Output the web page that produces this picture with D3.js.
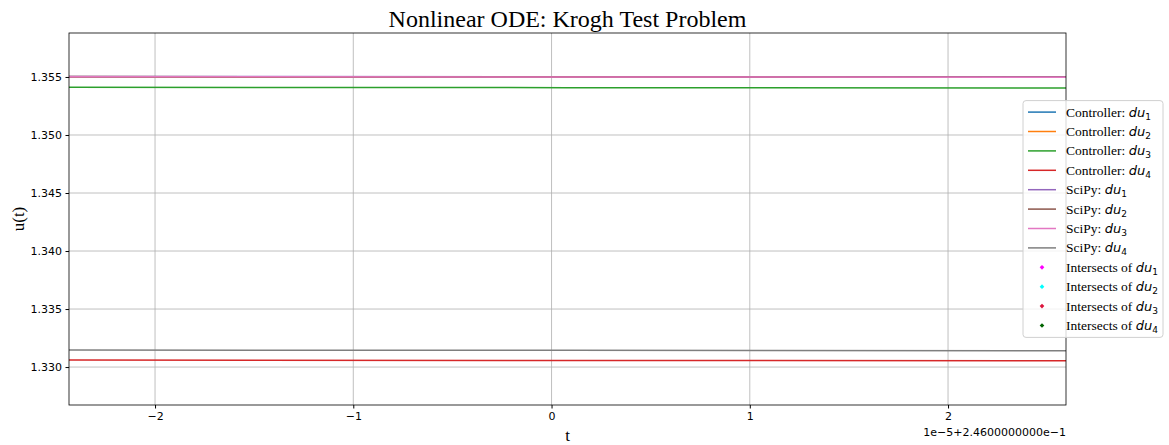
<!DOCTYPE html>
<html>
<head>
<meta charset="utf-8">
<script src="https://cdn.jsdelivr.net/npm/d3@7"></script>
<style>
  body { margin: 0; background: #fff; }
  .tick text { font-family: 'DejaVu Sans', sans-serif; font-size: 11px; fill: #000; }
  .serif { font-family: 'Liberation Serif', 'Times New Roman', serif; }
</style>
</head>
<body>
<div id="chart"></div>
<script>
// t is offset from 0.246, in units of 1e-5
const tValues = [-2.434, 0.08, 2.595];
const controllerDu1 = [1.35501, 1.35499, 1.35497];
const controllerDu2 = [1.35501, 1.35499, 1.35497];
const controllerDu3 = [1.35411, 1.35408, 1.35405];
const controllerDu4 = [1.33060, 1.33057, 1.33054];
const scipyDu1 = [1.35505, 1.35502, 1.35499];
const scipyDu2 = [1.35504, 1.35501, 1.35498];
const scipyDu3 = [1.35503, 1.35500, 1.35497];
const scipyDu4 = [1.33147, 1.33144, 1.33141];
const xTicks = [-2, -1, 0, 1, 2];
const yTicks = [1.330, 1.335, 1.340, 1.345, 1.350, 1.355];
const xDomain = [-2.434, 2.595];
const yDomain = [1.32673, 1.35879];

const series = [
  { label: 'Controller: ', sub: '1', values: controllerDu1, color: '#1f77b4' },
  { label: 'Controller: ', sub: '2', values: controllerDu2, color: '#ff7f0e' },
  { label: 'Controller: ', sub: '3', values: controllerDu3, color: '#2ca02c' },
  { label: 'Controller: ', sub: '4', values: controllerDu4, color: '#d62728' },
  { label: 'SciPy: ', sub: '1', values: scipyDu1, color: '#9467bd' },
  { label: 'SciPy: ', sub: '2', values: scipyDu2, color: '#8c564b' },
  { label: 'SciPy: ', sub: '3', values: scipyDu3, color: '#e377c2' },
  { label: 'SciPy: ', sub: '4', values: scipyDu4, color: '#7f7f7f' }
];
// intersections: none fall inside the view, only legend entries
const intersects = [
  { label: 'Intersects of ', sub: '1', color: '#ff00ff' },
  { label: 'Intersects of ', sub: '2', color: '#00ffff' },
  { label: 'Intersects of ', sub: '3', color: '#dc143c' },
  { label: 'Intersects of ', sub: '4', color: '#006400' }
];

const W = 1169, H = 445;
const margin = { top: 33, right: 103, bottom: 40, left: 69 };
const width = W - margin.left - margin.right;
const height = H - margin.top - margin.bottom;

const svg = d3.select('#chart').append('svg')
  .attr('width', W).attr('height', H);

const g = svg.append('g')
  .attr('transform', `translate(${margin.left},${margin.top})`);

const x = d3.scaleLinear().domain(xDomain).range([0, width]);
const y = d3.scaleLinear().domain(yDomain).range([height, 0]);

// grid
g.append('g').selectAll('line').data(xTicks).join('line')
  .attr('x1', d => x(d)).attr('x2', d => x(d))
  .attr('y1', 0).attr('y2', height)
  .attr('stroke', '#b0b0b0').attr('stroke-width', 0.8);
g.append('g').selectAll('line').data(yTicks).join('line')
  .attr('y1', d => y(d)).attr('y2', d => y(d))
  .attr('x1', 0).attr('x2', width)
  .attr('stroke', '#b0b0b0').attr('stroke-width', 0.8);

// lines
const line = d3.line().x((d, i) => x(tValues[i])).y(d => y(d));
g.append('g').selectAll('path').data(series).join('path')
  .attr('d', d => line(d.values))
  .attr('fill', 'none')
  .attr('stroke', d => d.color)
  .attr('stroke-width', 1.5);

// axes
const xAxis = d3.axisBottom(x).tickValues(xTicks).tickSize(3.5).tickPadding(3.5)
  .tickFormat(d => d3.format('')(d).replace('-', '\u2212'));
const yAxis = d3.axisLeft(y).tickValues(yTicks).tickSize(3.5).tickPadding(3.5)
  .tickFormat(d3.format('.3f'));

g.append('g').attr('transform', `translate(0,${height})`).call(xAxis)
  .call(a => a.select('.domain').remove());
g.append('g').call(yAxis)
  .call(a => a.select('.domain').remove());

// frame
g.append('rect')
  .attr('width', width).attr('height', height)
  .attr('fill', 'none').attr('stroke', '#000').attr('stroke-width', 0.8);

// title and labels
svg.append('text').attr('class', 'serif')
  .attr('x', margin.left + width / 2).attr('y', 27)
  .attr('text-anchor', 'middle').attr('font-size', 24)
  .text('Nonlinear ODE: Krogh Test Problem');
svg.append('text').attr('class', 'serif')
  .attr('x', margin.left + width / 2).attr('y', 441)
  .attr('text-anchor', 'middle').attr('font-size', 17)
  .text('t');
svg.append('text').attr('class', 'serif')
  .attr('transform', `translate(24,${margin.top + height / 2}) rotate(-90)`)
  .attr('text-anchor', 'middle').attr('font-size', 17)
  .text('u(t)');
svg.append('text')
  .attr('x', margin.left + width).attr('y', 436)
  .attr('text-anchor', 'end')
  .attr('font-family', 'DejaVu Sans, sans-serif').attr('font-size', 11)
  .text('1e\u22125+2.4600000000e\u22121');

// legend, centred vertically on the axes
const rows = series.map(d => ({ ...d, kind: 'line' }))
  .concat(intersects.map(d => ({ ...d, kind: 'marker' })));
const rowH = 19.4;
const lh = rows.length * rowH + 4;
const lx = 1023, lw = 140, ly = margin.top + height / 2 - lh / 2;
const legend = svg.append('g');
legend.append('rect')
  .attr('x', lx).attr('y', ly).attr('width', lw).attr('height', lh)
  .attr('rx', 3).attr('fill', 'rgba(255,255,255,0.8)')
  .attr('stroke', '#d0d0d0').attr('stroke-width', 1);

const item = legend.selectAll('g.item').data(rows).join('g')
  .attr('class', 'item')
  .attr('transform', (d, i) => `translate(${lx},${ly + 11.5 + i * rowH})`);

item.filter(d => d.kind === 'line').append('line')
  .attr('x1', 5).attr('x2', 33).attr('y1', 0).attr('y2', 0)
  .attr('stroke', d => d.color).attr('stroke-width', 1.5);
item.filter(d => d.kind === 'marker').append('path')
  .attr('d', d3.symbol(d3.symbolDiamond2, 14))
  .attr('transform', 'translate(19,0)')
  .attr('fill', d => d.color);

const txt = item.append('text')
  .attr('x', 43).attr('y', 4.5)
  .attr('class', 'serif').attr('font-size', 13.5);
txt.append('tspan').text(d => d.label);
txt.append('tspan')
  .attr('font-family', 'DejaVu Sans, sans-serif')
  .attr('font-style', 'italic').attr('font-size', 13)
  .text('du');
txt.append('tspan')
  .attr('font-family', 'DejaVu Sans, sans-serif')
  .attr('font-size', 9).attr('dy', 3)
  .text(d => d.sub);
</script>
</body>
</html>
